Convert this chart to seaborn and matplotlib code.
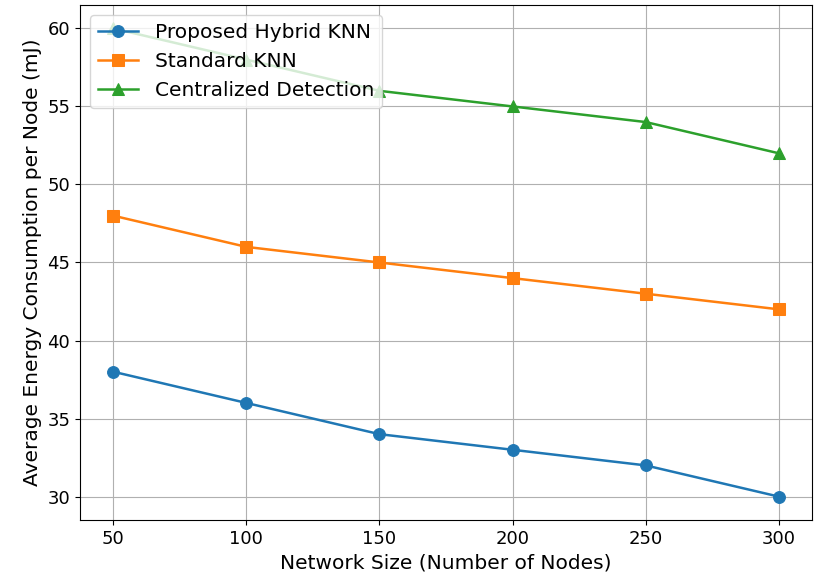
import matplotlib
matplotlib.use("Agg")
import matplotlib.pyplot as plt
import seaborn as sns
import pandas as pd

network_sizes = [50, 100, 150, 200, 250, 300]
hybrid_knn = [38, 36, 34, 33, 32, 30]
standard_knn = [48, 46, 45, 44, 43, 42]
centralized = [60, 58, 56, 55, 54, 52]

series = [
    ("Proposed Hybrid KNN", hybrid_knn, "o", "#1f77b4"),
    ("Standard KNN", standard_knn, "s", "#ff7f0e"),
    ("Centralized Detection", centralized, "^", "#2ca02c"),
]

fig, ax = plt.subplots(figsize=(8.15, 5.83), dpi=100)
for name, vals, mk, col in series:
    df = pd.DataFrame({"x": network_sizes, "y": vals})
    sns.lineplot(data=df, x="x", y="y", marker=mk, markersize=8.5, color=col,
                 markeredgecolor=col, linewidth=1.8, label=name, ax=ax)

ax.set_xlabel("Network Size (Number of Nodes)", fontsize=14.5)
ax.set_ylabel("Average Energy Consumption per Node (mJ)", fontsize=14.5)
ax.tick_params(labelsize=13)
ax.grid(True)
ax.legend(loc="upper left", fontsize=14.5)
fig.subplots_adjust(left=80/815, right=812/815, top=1-5/583, bottom=1-520/583)
fig.savefig("out.png", dpi=100)
